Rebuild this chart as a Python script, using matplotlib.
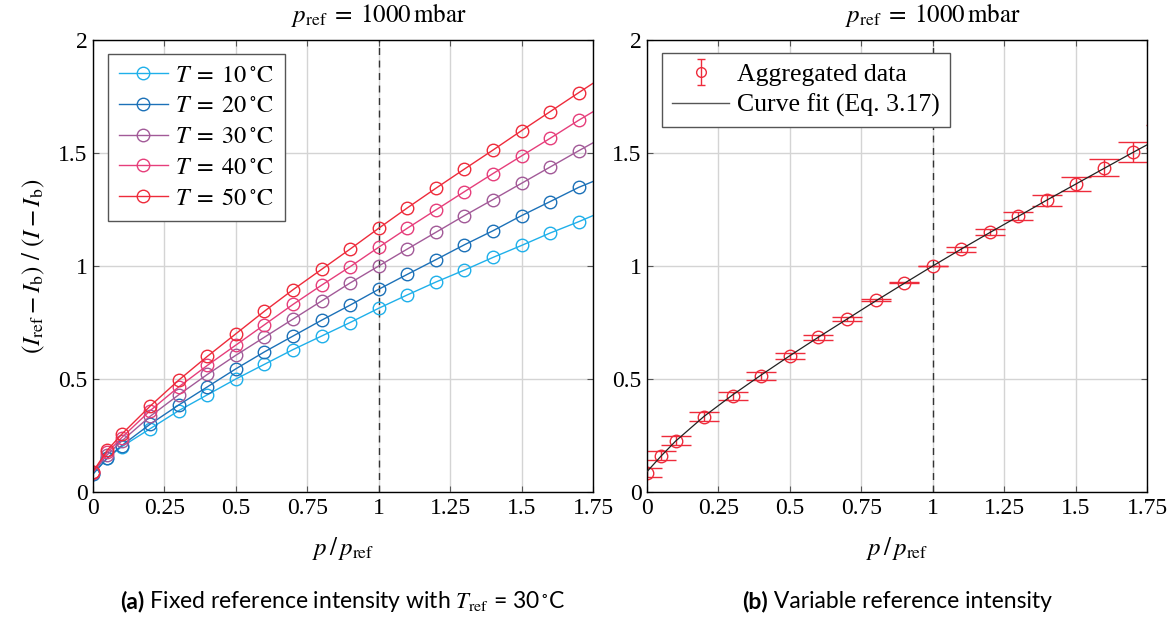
import numpy as np
import matplotlib
matplotlib.use("Agg")
import matplotlib.pyplot as plt

# ---------------- data ----------------
p_ratio = [0, 0.05, 0.1, 0.2, 0.3, 0.4, 0.5, 0.6, 0.7, 0.8, 0.9, 1.0,
           1.1, 1.2, 1.3, 1.4, 1.5, 1.6, 1.7, 1.8]

temps = ["10", "20", "30", "40", "50"]
vals_T10 = [0.08, 0.15, 0.20, 0.28, 0.36, 0.43, 0.50, 0.565, 0.63, 0.69, 0.75, 0.813,
            0.872, 0.929, 0.982, 1.038, 1.091, 1.146, 1.196, 1.25]
vals_T20 = [0.08, 0.15, 0.205, 0.30, 0.385, 0.465, 0.545, 0.62, 0.69, 0.76, 0.827, 0.897,
            0.963, 1.028, 1.094, 1.156, 1.223, 1.285, 1.348, 1.40]
vals_T30 = [0.085, 0.165, 0.225, 0.335, 0.43, 0.52, 0.605, 0.685, 0.765, 0.845, 0.925, 1.0,
            1.075, 1.149, 1.223, 1.294, 1.366, 1.438, 1.510, 1.58]
vals_T40 = [0.09, 0.175, 0.24, 0.36, 0.465, 0.56, 0.65, 0.74, 0.83, 0.915, 0.997, 1.083,
            1.167, 1.248, 1.329, 1.409, 1.487, 1.565, 1.645, 1.72]
vals_T50 = [0.09, 0.185, 0.255, 0.38, 0.495, 0.60, 0.70, 0.80, 0.895, 0.985, 1.075, 1.167,
            1.257, 1.344, 1.429, 1.513, 1.599, 1.683, 1.767, 1.85]
series = [vals_T10, vals_T20, vals_T30, vals_T40, vals_T50]
colors = ["#1fb0ea", "#1c71b8", "#a25a98", "#e63e7b", "#ee2b3b"]

agg_vals = [0.085, 0.161, 0.226, 0.333, 0.426, 0.515, 0.602, 0.684, 0.765, 0.848, 0.926, 1.0,
            1.074, 1.149, 1.221, 1.290, 1.363, 1.435, 1.504, 1.573]
agg_err = [0.02, 0.02, 0.02, 0.02, 0.018, 0.018, 0.015, 0.0125, 0.01, 0.005, 0.003, 0.001,
           0.01, 0.014, 0.018, 0.024, 0.03, 0.038, 0.046, 0.05]
fit_vals = [0.09, 0.16, 0.225, 0.335, 0.43, 0.518, 0.603, 0.685, 0.765, 0.845, 0.923, 1.0,
            1.075, 1.148, 1.22, 1.292, 1.362, 1.432, 1.502, 1.57]

xticks = [0, 0.25, 0.5, 0.75, 1, 1.25, 1.5, 1.75]
xticklabels = ["0", "0.25", "0.5", "0.75", "1", "1.25", "1.5", "1.75"]
yticks = [0, 0.5, 1, 1.5, 2]
yticklabels = ["0", "0.5", "1", "1.5", "2"]
p_ref_pos = 1.0

title_txt = r"$p_{\mathrm{ref}}\;=\;1000\,\mathrm{mbar}$"
# ---------------- style ----------------
plt.rcParams["font.family"] = ["Liberation Serif", "DejaVu Serif"]
plt.rcParams["mathtext.fontset"] = "stix"
FS = 17

fig = plt.figure(figsize=(11.75, 6.17), dpi=100)
axL = fig.add_axes([93 / 1175, 125 / 617, 500 / 1175, 452 / 617])
axR = fig.add_axes([647 / 1175, 125 / 617, 500 / 1175, 452 / 617])


def style_axes(ax):
    ax.set_xlim(0, 1.75)
    ax.set_ylim(0, 2)
    ax.set_xticks(xticks)
    ax.set_xticklabels(xticklabels, fontsize=FS)
    ax.set_yticks(yticks)
    ax.set_yticklabels(yticklabels, fontsize=FS)
    ax.tick_params(direction="in", length=4, width=0.8, color="#555555",
                   top=True, right=True, pad=4)
    ax.grid(True, color="#d4d4d4", linewidth=1.0)
    ax.set_axisbelow(True)
    for s in ax.spines.values():
        s.set_linewidth(1.0)
        s.set_color("black")
    ax.axvline(p_ref_pos, color="#333333", linestyle=(0, (5, 4)), linewidth=1.0, zorder=1.5)
    ax.text(p_ref_pos, 1.025, title_txt, transform=ax.get_xaxis_transform(),
            ha="center", va="bottom", fontsize=FS + 1)
    ax.set_xlabel(r"$p\,/\,p_{\mathrm{ref}}$", fontsize=FS + 1, labelpad=12)


style_axes(axL)
style_axes(axR)

for vals, c, t in zip(series, colors, temps):
    axL.plot(p_ratio, vals, color=c, linewidth=1.0, marker="o", markersize=9,
             markerfacecolor="none", markeredgecolor=c, markeredgewidth=1.0,
             label=r"$T\;=\;%s\,^{\circ}\mathrm{C}$" % t)

axL.set_ylabel(r"$(I_{\mathrm{ref}} - I_{\mathrm{b}})\ /\ (I - I_{\mathrm{b}})$",
               fontsize=FS + 1, labelpad=8)

legL = axL.legend(loc="upper left", bbox_to_anchor=(0.03, 0.97), fontsize=FS + 0.5,
                  frameon=True, fancybox=False, edgecolor="#555555", framealpha=1,
                  handlelength=2.0, handletextpad=0.3, borderpad=0.45, labelspacing=0.36,
                  borderaxespad=0)
legL.get_frame().set_linewidth(1.0)

# right panel
red = "#ee2b3b"
axR.plot(p_ratio, fit_vals, color="#222222", linewidth=0.9, zorder=3)
axR.errorbar(p_ratio, agg_vals, yerr=agg_err, fmt="o", markersize=9,
             markerfacecolor="none", markeredgecolor=red, markeredgewidth=1.0,
             ecolor=red, elinewidth=1.0, capsize=11, capthick=1.3, zorder=2)

# legend proxies
eb_proxy = axR.errorbar([np.nan], [np.nan], yerr=[np.nan], fmt="o", markersize=7,
                        markerfacecolor="none", markeredgecolor=red, markeredgewidth=1.0,
                        ecolor=red, elinewidth=1.0, capsize=3)
line_proxy, = axR.plot([np.nan], [np.nan], color="#555555", linewidth=1.0)
legR = axR.legend([eb_proxy, line_proxy], ["Aggregated data", "Curve fit (Eq. 3.17)"],
                  loc="upper left", bbox_to_anchor=(0.03, 0.972), fontsize=FS + 1.5,
                  frameon=True, fancybox=False, edgecolor="#555555", framealpha=1,
                  handlelength=2.2, handletextpad=0.3, borderpad=0.4, labelspacing=0.3,
                  borderaxespad=0)
legR.get_frame().set_linewidth(1.0)

# captions, centred under each panel
cap_font = ["Lato", "DejaVu Sans"]
CFS = 16.5
ycap = 1 - 601 / 617
fig.canvas.draw()
renderer = fig.canvas.get_renderer()
for ax, lab, body in [(axL, "(a)", r"Fixed reference intensity with $T_{\mathrm{ref}}$ = 30$\,^{\circ}$C"),
                      (axR, "(b)", "Variable reference intensity")]:
    t1 = fig.text(0, ycap, lab, fontsize=CFS, fontweight="bold", family=cap_font,
                  ha="left", va="center")
    t2 = fig.text(0, ycap, " " + body, fontsize=CFS, family=cap_font, ha="left", va="center")
    w1 = t1.get_window_extent(renderer).width
    w2 = t2.get_window_extent(renderer).width
    bb = ax.get_position()
    cx = (bb.x0 + bb.x1) / 2 * 1175
    x0 = cx - (w1 + w2) / 2
    t1.set_x(x0 / 1175)
    t2.set_x((x0 + w1) / 1175)

fig.savefig("out.png", dpi=100)
